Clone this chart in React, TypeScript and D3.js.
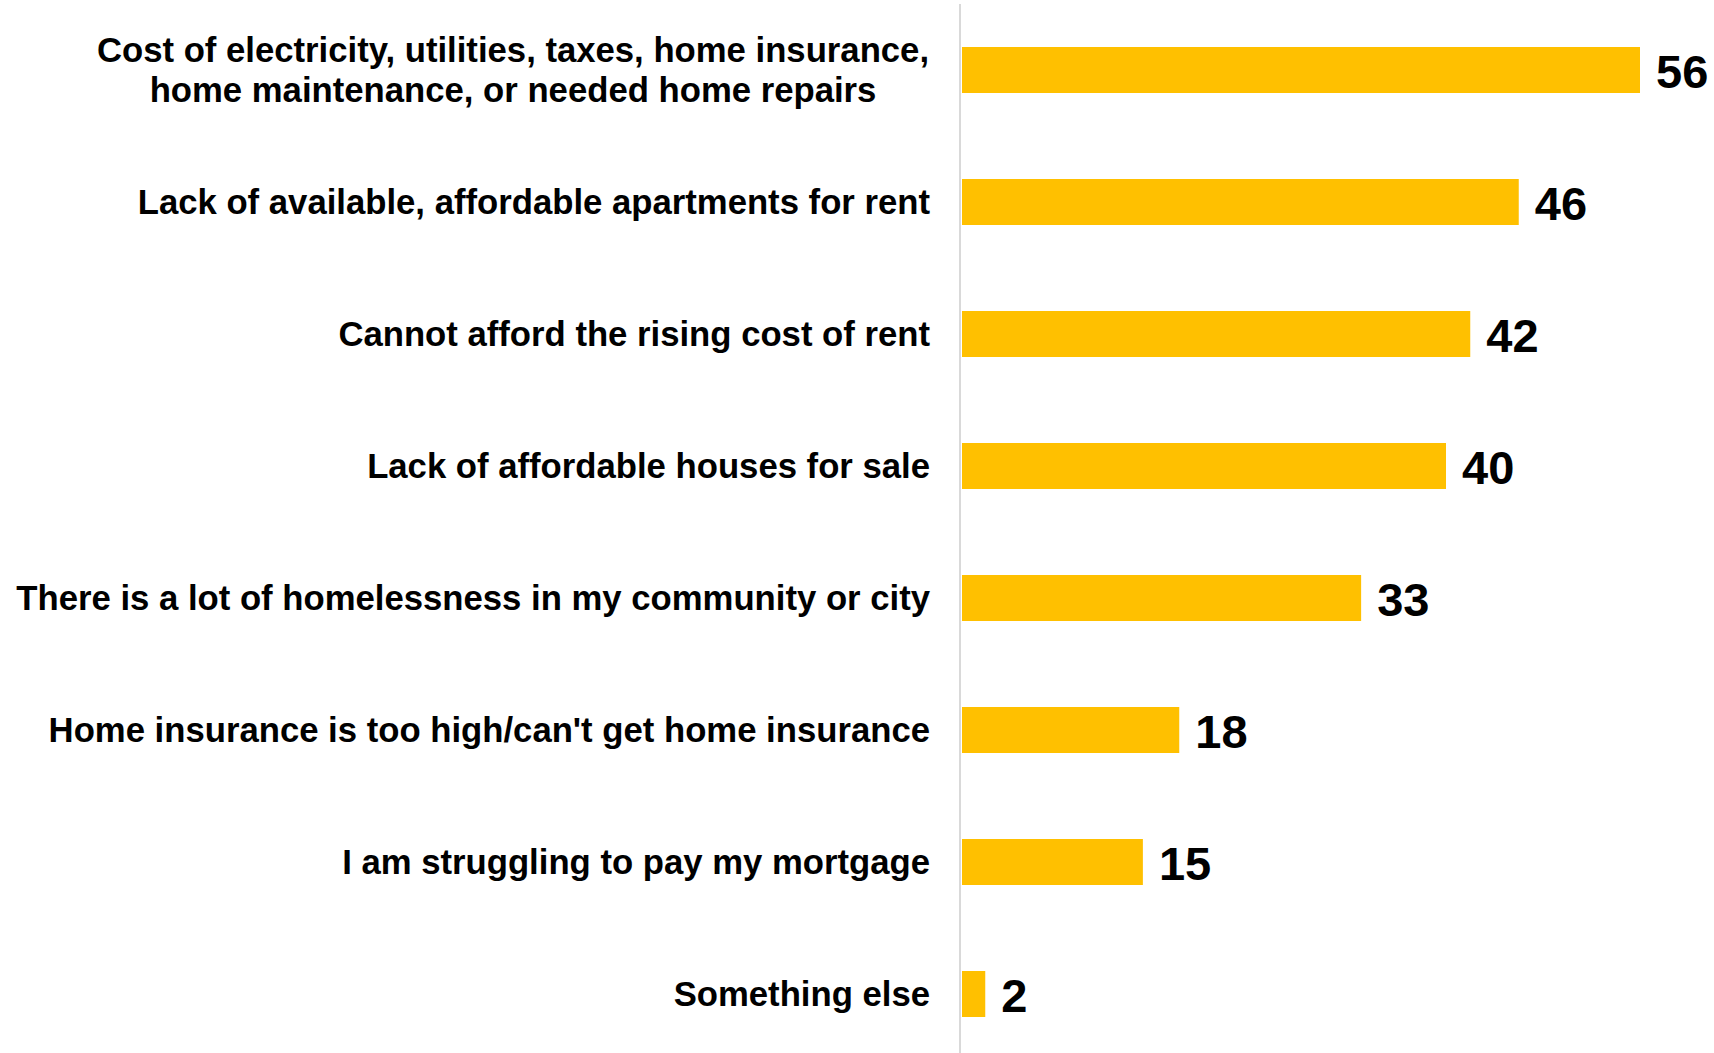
import React from "react";
import * as d3 from "d3";

const categories: string[] = [
  "Cost of electricity, utilities, taxes, home insurance,\nhome maintenance, or needed home repairs",
  "Lack of available, affordable apartments for rent",
  "Cannot afford the rising cost of rent",
  "Lack of affordable houses for sale",
  "There is a lot of homelessness in my community or city",
  "Home insurance is too high/can't get home insurance",
  "I am struggling to pay my mortgage",
  "Something else",
];
const values: number[] = [56, 46, 42, 40, 33, 18, 15, 2];

const W = 1714;
const H = 1053;
const FONT = "'Liberation Sans', Arial, Helvetica, sans-serif";

export default function App() {
  const x = d3.scaleLinear().domain([0, 56]).range([961, 1640]);
  const p = 1 - 46 / 132;
  const y = d3
    .scaleBand<string>()
    .domain(categories)
    .range([4, 4 + 132 * categories.length])
    .paddingInner(p)
    .paddingOuter(p / 2);
  const bw = y.bandwidth();
  const labelRight = 930;
  const labelSize = 34.7;

  return (
    <svg
      width={W}
      height={H}
      style={{ position: "absolute", left: 0, top: 0, background: "#fff" }}
      fontFamily={FONT}
    >
      <rect x={0} y={0} width={W} height={H} fill="#ffffff" />
      <line x1={960} x2={960} y1={4} y2={H} stroke="#d9d9d9" strokeWidth={2} />
      {categories.map((c, i) => {
        const y0 = y(c) as number;
        const cy = y0 + bw / 2;
        const lines = c.split("\n");
        const v = values[i];
        return (
          <g key={i}>
            <rect x={x(0) + 1} y={y0} width={x(v) - x(0) - 1} height={bw} fill="#FFC000" />
            <text
              x={x(v) + 16}
              y={cy + 18}
              fontSize={47}
              fontWeight="bold"
              fill="#000"
            >
              {v}
            </text>
            {lines.length === 1 ? (
              <text
                x={labelRight}
                y={cy + 12.4}
                textAnchor="end"
                fontSize={labelSize}
                fontWeight="bold"
                fill="#000"
              >
                {c}
              </text>
            ) : (
              <text
                x={513}
                textAnchor="middle"
                fontSize={labelSize}
                fontWeight="bold"
                fill="#000"
              >
                {lines.map((l, j) => (
                  <tspan key={j} x={513} y={cy + 12.4 + (j - (lines.length - 1) / 2) * 40}>
                    {l}
                  </tspan>
                ))}
              </text>
            )}
          </g>
        );
      })}
    </svg>
  );
}
